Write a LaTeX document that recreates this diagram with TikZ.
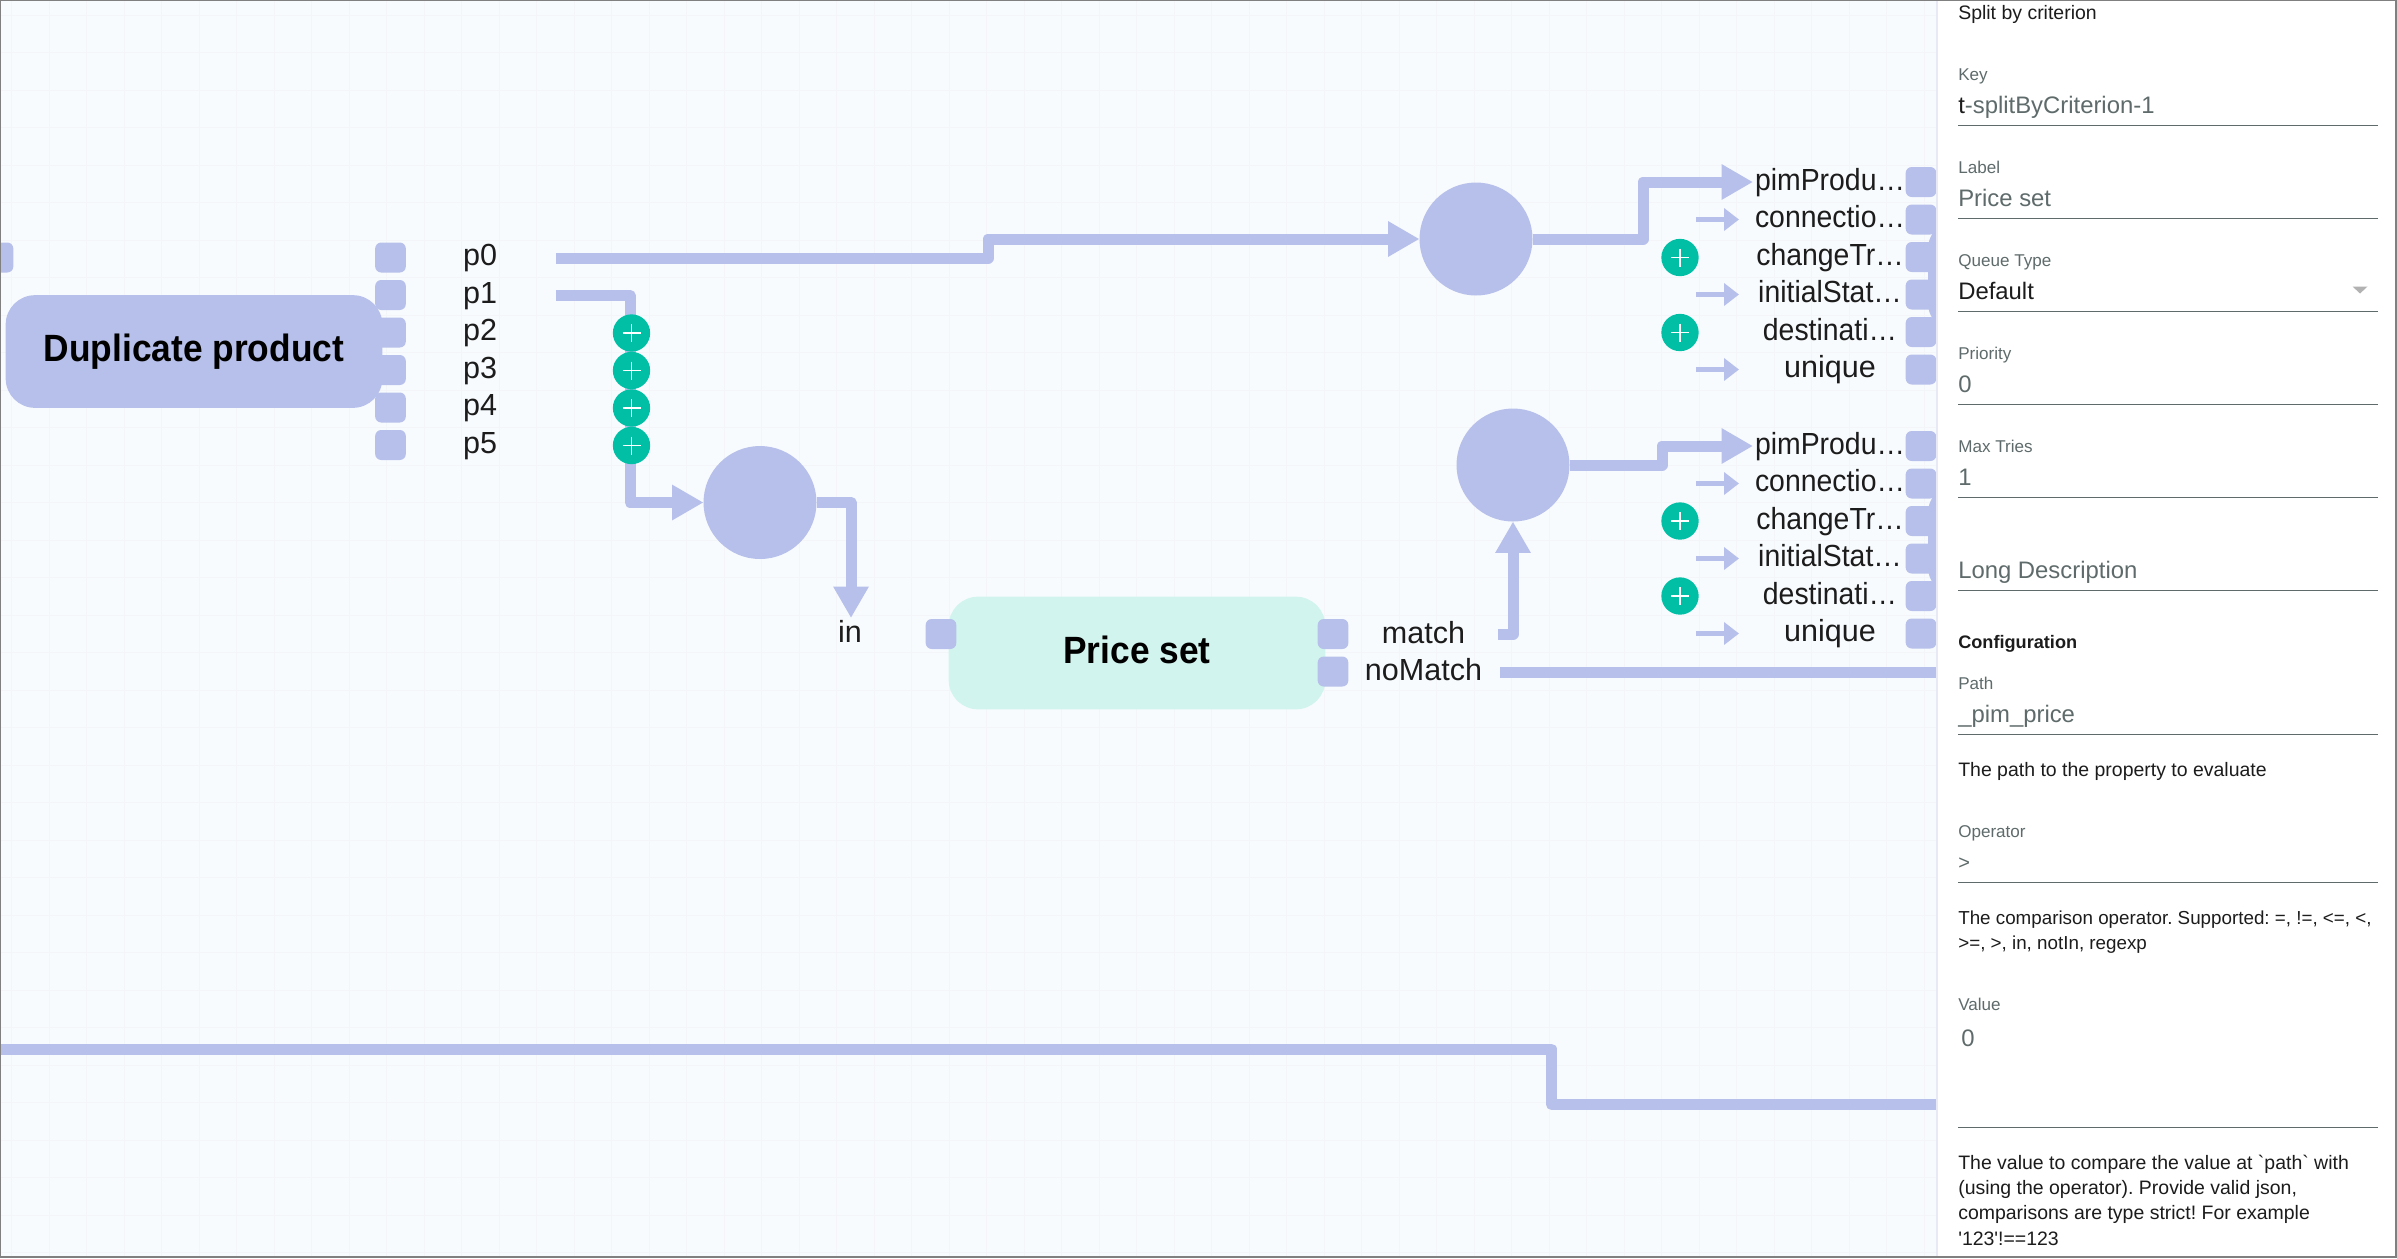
\documentclass[tikz,border=0pt]{standalone}
\usepackage{fontspec}
\setmainfont{Liberation Sans}
\newfontfamily\cutfont[FakeStretch=0.93]{Liberation Sans}
\usetikzlibrary{arrows.meta}
\definecolor{flow}{HTML}{B7C0EA}
\definecolor{mint}{HTML}{D1F5EE}
\definecolor{addgreen}{HTML}{00BFA5}
\definecolor{canvas}{HTML}{F8FBFE}
\definecolor{gridline}{HTML}{F3F5F8}
\definecolor{fieldgray}{HTML}{5F6B6B}
\definecolor{inktext}{HTML}{1C1C1C}
\newcommand{\sized}[1]{\fontsize{#1}{#1}\selectfont}
\frenchspacing
\tikzset{
 block/.style={rounded corners=22pt,minimum width=282.5pt,minimum height=84.5pt,inner sep=0pt,outer sep=0pt,font=\cutfont\bfseries\sized{28.5pt}},
 port/.style={fill=flow,rounded corners=4.5pt,minimum width=23pt,minimum height=22.5pt,inner sep=0pt,outer sep=0pt},
 hub/.style={circle,fill=flow,minimum size=84.75pt,inner sep=0pt,outer sep=0pt},
 addbtn/.style={circle,fill=addgreen,minimum size=28pt,inner sep=0pt,outer sep=0pt,path picture={
   \draw[white,line width=1.4pt] (path picture bounding box.center)+(-9,0)--+(9,0);
   \draw[white,line width=1.4pt] (path picture bounding box.center)+(0,-9)--+(0,9);}},
 plabel/.style={anchor=base,inner sep=0pt,text=inktext,font=\sized{22.9pt}},
 cutlabel/.style={anchor=base,inner sep=0pt,text=inktext,font=\cutfont\sized{22.9pt}},
 wire/.style={flow,line width=8.25pt,line join=round},
 wirehead/.style={wire,-{Triangle[length=23.5pt,width=25pt]}},
 stub/.style={flow,line width=4.1pt,-{Triangle[length=11.25pt,width=16.5pt]}},
 caption/.style={anchor=base west,inner sep=0pt,text=fieldgray,font=\sized{12.8pt}},
 fieldval/.style={anchor=base west,inner sep=0pt,text=fieldgray,font=\sized{17.9pt}},
 helptext/.style={anchor=base west,inner sep=0pt,text=inktext,font=\sized{14.6pt}},
 underline/.style={fieldgray,line width=0.75pt},
}
\begin{document}
\begin{tikzpicture}[x=0.75pt,y=-0.75pt]
 \useasboundingbox (0,0) rectangle (2397,1258);
 \clip (0,0) rectangle (2397,1258);
 \fill[canvas] (0,0) rectangle (2397,1258);
 % canvas grid
 \foreach \gx in {0,...,51} \draw[gridline,line width=0.75pt] (11.5+37.5*\gx,0)--(11.5+37.5*\gx,1258);
 \foreach \gy in {0,...,33} \draw[gridline,line width=0.75pt] (0,15+37.5*\gy)--(1937,15+37.5*\gy);

 % blocks
 \node[block,fill=flow] (dup) at (194,351.5) {\raisebox{2.5pt}{Duplicate product}};
 \node[block,fill=mint] (price) at (1137,653) {\raisebox{4.5pt}{Price set}};
 \node[block,fill=flow,anchor=west] (nextA) at (1928,276) {};
 \node[block,fill=flow,anchor=west] (nextB) at (1928,540) {};

 % ports of the first block
 \node[port] (stray) at (-2,257.5) {};
 \foreach \i/\ry in {0/257.5,1/295,2/332.5,3/370,4/407.5,5/445}{
  \node[port] (dupp\i) at (390.5,\ry) {};
  \node[plabel] (lblp\i) at (480,\ry+8) {p\i};
 }
 \node[port] (pricein) at (941,634) {};
 \node[port] (pricematch) at (1333,634) {};
 \node[port] (pricenomatch) at (1333,671.5) {};
 \node[plabel] (lblin) at (850,642.5) {in};
 \node[plabel] (lblmatch) at (1423.5,643) {match};
 \node[plabel] (lblnomatch) at (1423.5,680.5) {noMatch};

 % hubs
 \node[hub] (hubA) at (760,502.5) {};
 \node[hub] (hubB) at (1476,239) {};
 \node[hub] (hubC) at (1513,465) {};

 % target rows
 \foreach \r/\base in {a/182,b/446}{
  \node[port] (\r pim) at (1921,\base) {};
  \node[port] (\r con) at (1921,\base+37.5) {};
  \node[port] (\r chg) at (1921,\base+75) {};
  \node[port] (\r ini) at (1921,\base+112.5) {};
  \node[port] (\r des) at (1921,\base+150) {};
  \node[port] (\r unq) at (1921,\base+187.5) {};
  \node[cutlabel] (\r lpim) at (1830,\base+8) {pimProdu…};
  \node[cutlabel] (\r lcon) at (1830,\base+45.5) {connectio…};
  \node[cutlabel] (\r lchg) at (1830,\base+83) {changeTr…};
  \node[cutlabel] (\r lini) at (1830,\base+120.5) {initialStat…};
  \node[cutlabel] (\r ldes) at (1830,\base+158) {destinati…};
  \node[plabel] (\r lunq) at (1830,\base+195.5) {unique};
  \coordinate (\r s1) at (1696,\base+37.5);
  \coordinate (\r t1) at (1739,\base+37.5);
  \coordinate (\r s2) at (1696,\base+112.5);
  \coordinate (\r t2) at (1739,\base+112.5);
  \coordinate (\r s3) at (1696,\base+187.5);
  \coordinate (\r t3) at (1739,\base+187.5);
  \draw[stub] (\r s1)--(\r t1);
  \draw[stub] (\r s2)--(\r t2);
  \draw[stub] (\r s3)--(\r t3);
 }

 % wires
 \coordinate (p0out) at (556,258);
 \coordinate (p0bend) at (988,239);
 \coordinate (p1out) at (556,295.5);
 \coordinate (p1bend) at (630,502.5);
 \coordinate (intip) at (851,618);
 \coordinate (hubBbend) at (1643,182);
 \coordinate (atip) at (1753,182);
 \coordinate (hubCbend) at (1662,446);
 \coordinate (btip) at (1753,446);
 \coordinate (matchout) at (1498,634);
 \coordinate (nomatchout) at (1500,672);
 \coordinate (nomatchend) at (1937,672);
 \coordinate (longstart) at (0,1049);
 \coordinate (longbend) at (1551.5,1104.5);
 \coordinate (longend) at (1937,1104.5);
 \draw[wirehead] (p0out)-|(p0bend)--(hubB.west);
 \draw[wirehead] (p1out)-|(p1bend)--(hubA.west);
 \draw[wirehead] (hubA.east)-|(intip);
 \draw[wirehead] (hubB.east)-|(hubBbend)--(atip);
 \draw[wirehead] (hubC.east)-|(hubCbend)--(btip);
 \draw[wirehead] (matchout)-|(hubC.south);
 \draw[wire] (nomatchout)--(nomatchend);
 \draw[wire] (longstart)-|(longbend)--(longend);

 % add buttons
 \foreach \i/\ry in {2/333,3/370.5,4/408,5/445.5} \node[addbtn] (addp\i) at (631.5,\ry) {};
 \foreach \i/\ry in {a/257.5,b/332.5,c/521,d/596} \node[addbtn] (addr\i) at (1680,\ry) {};

 % side panel
 \fill[white] (1937,0) rectangle (2397,1258);
 \draw[gridline!80!flow,line width=1.2pt] (1937,0)--(1937,1258);
 \node[helptext] (title) at (1958,19) {Split by criterion};
 \node[caption] (capkey) at (1958,80) {Key};
 \node[fieldval] (valkey) at (1958,113.5) {\textcolor{inktext}{t}-splitByCriterion-1};
 \node[caption] (caplabel) at (1958,173.3) {Label};
 \node[fieldval] (vallabel) at (1958,206.5) {Price set};
 \node[caption] (capqueue) at (1958,266) {Queue Type};
 \node[fieldval,text=inktext] (valqueue) at (1958,299) {Default};
 \node[caption] (capprio) at (1958,359) {Priority};
 \node[fieldval] (valprio) at (1958,392.5) {0};
 \node[caption] (captries) at (1958,452.3) {Max Tries};
 \node[fieldval] (valtries) at (1958,485) {1};
 \node[fieldval] (vallong) at (1958,578.5) {Long Description};
 \node[helptext,font=\bfseries\sized{13.6pt}] (config) at (1958,648.5) {Configuration};
 \node[caption] (cappath) at (1958,689.3) {Path};
 \node[fieldval] (valpath) at (1958,722.5) {\_pim\_price};
 \node[helptext] (helppath) at (1958,776.7) {The path to the property to evaluate};
 \node[caption] (capop) at (1958,837.5) {Operator};
 \node[fieldval,font=\sized{15pt}] (valop) at (1958,869) {>};
 \node[helptext,font=\sized{14.1pt}] (helpopa) at (1958,924) {The comparison operator. Supported: =, !=, <=, <,};
 \node[helptext,font=\sized{14.1pt}] (helpopb) at (1958,949) {>=, >, in, notIn, regexp};
 \node[caption] (capval) at (1958,1010) {Value};
 \node[fieldval] (valval) at (1961,1046) {0};
 \node[helptext] (helpvala) at (1958,1169) {The value to compare the value at \textasciigrave path\textasciigrave{} with};
 \node[helptext] (helpvalb) at (1958,1194.5) {(using the operator). Provide valid json,};
 \node[helptext] (helpvalc) at (1958,1219.7) {comparisons are type strict! For example};
 \node[helptext] (helpvald) at (1958,1245) {\textquotesingle 123\textquotesingle !==123};
 \foreach \ly in {125.5,218.5,311,404,497.3,590,734,882.3,1127}
  \draw[underline] (1958,\ly)--(2378,\ly);
 \fill[black!30] (2352.5,286.5)--(2367.5,286.5)--(2360,293.5)--cycle;

 % outer frame
 \draw[black!50,line width=1.2pt] (0.5,0.5) rectangle (2396,1257);
\end{tikzpicture}
\end{document}
